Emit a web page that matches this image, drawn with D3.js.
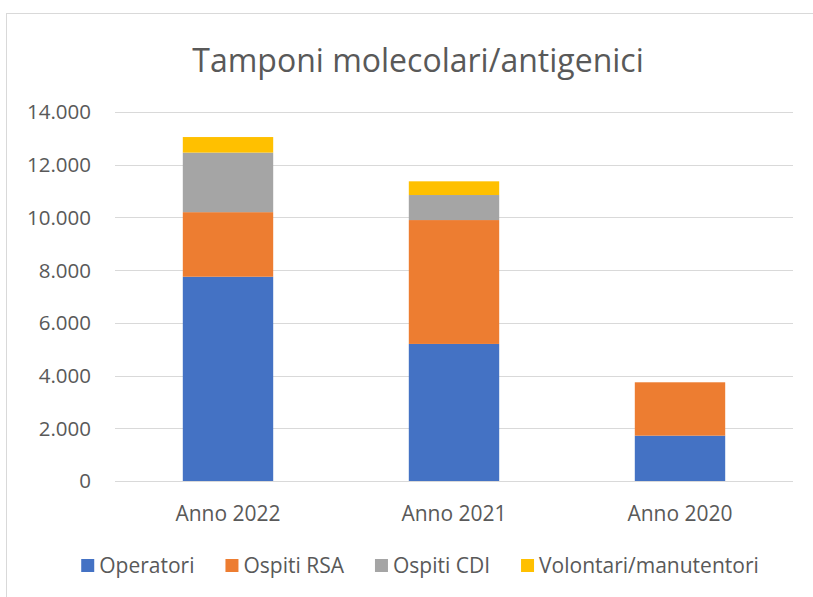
<!DOCTYPE html>
<meta charset="utf-8">
<style>
body { margin: 0; background: #fff; }
svg text { font-family: "Open Sans", sans-serif; fill: #595959; }
.grid line { stroke: #d9d9d9; stroke-width: 1px; }
</style>
<svg width="813" height="597"></svg>
<script src="https://cdn.jsdelivr.net/npm/d3@7"></script>
<script>

var categories = ["Anno 2022", "Anno 2021", "Anno 2020"];
var seriesNames = ["Operatori", "Ospiti RSA", "Ospiti CDI", "Volontari/manutentori"];
var operatori = [7750, 5200, 1720];
var ospitiRSA = [2450, 4700, 2025];
var ospitiCDI = [2260, 950, 0];
var volontari = [590, 520, 0];
var yTicks = [0, 2000, 4000, 6000, 8000, 10000, 12000, 14000];
var colors = ["#4472c4", "#ed7d31", "#a5a5a5", "#ffc000"];

var svg = d3.select("svg");

// chart frame (right/bottom edges fall outside the picture)
svg.append("rect")
    .attr("x", 6.5).attr("y", 13.5)
    .attr("width", 900).attr("height", 700)
    .attr("fill", "none")
    .attr("stroke", "#d9d9d9");

var plot = {left: 115, right: 793, top: 112, bottom: 481};

var x = d3.scaleBand().domain(categories)
    .range([plot.left, plot.right])
    .paddingInner(0.6).paddingOuter(0.3);
var y = d3.scaleLinear().domain([0, 14000]).range([plot.bottom, plot.top]);

var it = d3.formatLocale({decimal: ",", thousands: ".", grouping: [3], currency: ["", "€"]});
var fmt = it.format(",");

// gridlines
svg.append("g").attr("class", "grid")
  .selectAll("line").data(yTicks).enter().append("line")
    .attr("x1", plot.left).attr("x2", plot.right)
    .attr("y1", function(d) { return Math.round(y(d)) + 0.5; })
    .attr("y2", function(d) { return Math.round(y(d)) + 0.5; });

// y labels
svg.append("g").selectAll("text").data(yTicks).enter().append("text")
    .attr("x", 91)
    .attr("y", function(d) { return y(d); })
    .attr("dy", "0.36em")
    .attr("text-anchor", "end")
    .style("font-size", "20.5px")
    .text(function(d) { return fmt(d); });

// stacked bars
var table = categories.map(function(c, i) {
  return {cat: c, "Operatori": operatori[i], "Ospiti RSA": ospitiRSA[i],
          "Ospiti CDI": ospitiCDI[i], "Volontari/manutentori": volontari[i]};
});
var stacked = d3.stack().keys(seriesNames)(table);

svg.append("g").selectAll("g").data(stacked).enter().append("g")
    .attr("fill", function(d, i) { return colors[i]; })
  .selectAll("rect").data(function(d) { return d; }).enter().append("rect")
    .attr("x", function(d) { return x(d.data.cat); })
    .attr("width", x.bandwidth())
    .attr("y", function(d) { return y(d[1]); })
    .attr("height", function(d) { return y(d[0]) - y(d[1]); });

// x labels
svg.append("g").selectAll("text").data(categories).enter().append("text")
    .attr("x", function(d) { return x(d) + x.bandwidth() / 2; })
    .attr("y", 521)
    .attr("text-anchor", "middle")
    .style("font-size", "21px")
    .text(function(d) { return d; });

// title
svg.append("text")
    .attr("x", 418).attr("y", 72)
    .attr("text-anchor", "middle")
    .style("font-size", "32px")
    .text("Tamponi molecolari/antigenici");

// legend
var legend = svg.append("g");
var lx = 0;
seriesNames.forEach(function(name, i) {
  var g = legend.append("g").attr("transform", "translate(" + lx + ",0)");
  g.append("rect").attr("x", 0).attr("y", 559).attr("width", 13).attr("height", 13)
      .attr("fill", colors[i]);
  var t = g.append("text").attr("x", 18).attr("y", 573)
      .style("font-size", "21px").text(name);
  lx += 18 + t.node().getComputedTextLength() + 31;
});
var total = lx - 31;
legend.attr("transform", "translate(" + (420 - total / 2) + ",0)");

</script>
